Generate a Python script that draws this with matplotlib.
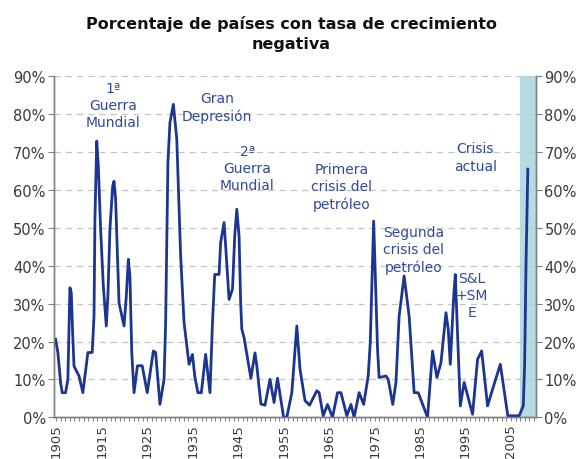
import matplotlib
matplotlib.use("Agg")
import matplotlib.pyplot as plt
from matplotlib.ticker import FixedLocator, FuncFormatter

# ---- data ----
years = [1904.85, 1905.35, 1905.95, 1906.3, 1907.05, 1907.55, 1908.0, 1908.3, 1908.6, 1908.9,
         1910.0, 1910.85, 1911.95, 1912.9, 1913.3, 1913.5, 1913.9, 1914.25, 1914.75, 1915.35,
         1916.0, 1916.35, 1916.8, 1917.4, 1917.7, 1918.05, 1918.8, 1919.9, 1920.4, 1920.85,
         1921.2, 1921.6, 1922.1, 1922.85, 1923.9, 1925.0, 1926.35, 1926.85, 1927.8, 1928.7,
         1929.05, 1929.55, 1930.0, 1930.75, 1931.5, 1932.35, 1933.1, 1934.2, 1934.95, 1935.45,
         1936.15, 1936.9, 1937.85, 1938.8, 1939.35, 1939.85, 1940.8, 1941.15, 1941.9, 1942.25,
         1943.0, 1943.75, 1944.25, 1944.7, 1945.2, 1945.55, 1945.8, 1946.3, 1947.8, 1948.7,
         1949.1, 1950.0, 1950.9, 1952.0, 1952.9, 1953.65, 1955.0, 1955.7, 1956.8, 1957.9,
         1958.6, 1959.7, 1960.7, 1962.3, 1962.8, 1963.7, 1964.65, 1965.75, 1966.85, 1967.6,
         1968.9, 1969.8, 1970.5, 1971.6, 1972.6, 1973.6, 1974.05, 1974.8, 1975.65, 1976.0,
         1977.5, 1978.0, 1979.0, 1979.7, 1980.4, 1981.5, 1982.6, 1983.7, 1984.6, 1986.65,
         1987.75, 1988.7, 1989.6, 1990.7, 1991.2, 1991.65, 1992.4, 1992.75, 1993.1, 1993.85,
         1994.7, 1996.55, 1997.65, 1998.55, 1999.85, 2000.95, 2002.65, 2004.3, 2006.8, 2007.7,
         2008.0, 2008.3, 2008.7]
pct = [20.6, 17.1, 9.2, 6.5, 6.5, 10.0, 34.2, 32.9, 22.4, 13.5,
       10.9, 6.5, 17.1, 17.1, 26.7, 52.2, 72.9, 66.3, 49.6, 34.6,
       24.1, 32.0, 49.6, 61.0, 62.3, 57.5, 30.2, 24.1, 32.0, 41.7,
       37.3, 17.1, 6.5, 13.6, 13.6, 6.5, 17.5, 17.1, 3.4, 10.0,
       25.0, 67.2, 77.8, 82.6, 73.4, 42.6, 25.0, 14.0, 16.6, 10.9,
       6.5, 6.5, 16.6, 6.5, 25.0, 37.7, 37.7, 46.1, 51.4, 45.2,
       31.1, 33.8, 48.0, 54.9, 47.8, 30.3, 23.3, 21.0, 10.3, 17.0,
       13.6, 3.5, 3.2, 10.0, 3.9, 10.3, 0.0, 0.0, 6.5, 24.1,
       12.7, 4.4, 3.2, 7.0, 6.5, 0.4, 3.4, 0.0, 6.5, 6.5,
       0.4, 3.4, 0.0, 6.5, 3.4, 10.9, 19.7, 51.8, 18.0, 10.5,
       10.9, 10.0, 3.4, 9.2, 26.7, 37.3, 26.7, 6.5, 6.5, 0.0,
       17.5, 10.5, 14.4, 27.6, 23.2, 14.0, 32.0, 37.7, 26.7, 3.0,
       9.2, 0.8, 15.3, 17.5, 3.0, 7.4, 14.0, 0.4, 0.4, 3.0,
       14.0, 40.0, 65.5]

tick_years = list(range(1905, 2006, 10))
pct_ticks = [0, 10, 20, 30, 40, 50, 60, 70, 80, 90]
shade_span = (2007.0, 2010.5)

annotations = [
    ("1ª\nGuerra\nMundial", 1917.55, 82.4),
    ("Gran\nDepresión", 1940.3, 82.0),
    ("2ª\nGuerra\nMundial", 1947.0, 65.8),
    ("Primera\ncrisis del\npetróleo", 1967.8, 61.0),
    ("Segunda\ncrisis del\npetróleo", 1983.65, 44.3),
    ("Crisis\nactual", 1997.15, 68.7),
    ("S&L\n+SM\nE", 1996.4, 32.3),
]
title = "Porcentaje de países con tasa de crecimiento\nnegativa"

# ---- styling ----
line_color = "#1c3590"
text_color = "#30499c"
tick_color = "#3a3a3a"
spine_color = "#808080"

fig = plt.figure(figsize=(5.82, 4.60), dpi=100)
ax = fig.add_axes([54 / 582, 1 - 418.3 / 460, (536 - 54) / 582, (418.3 - 77.3) / 460])

ax.axvspan(shade_span[0], shade_span[1], ymin=0, ymax=1, color="#b5dde1", lw=0, zorder=0)
for t in pct_ticks[1:]:
    ax.axhline(t, color="#c4c4c4", lw=0.9, ls=(0, (5, 4)), zorder=1)

ax.plot(years, pct, color=line_color, lw=2.0, zorder=3, solid_joinstyle="round")

ax.set_xlim(1904.5, 2010.5)
ax.set_ylim(0, 90)

ax.xaxis.set_major_locator(FixedLocator(tick_years))
ax.xaxis.set_minor_locator(FixedLocator(list(range(1905, 2011))))
ax.tick_params(axis="x", which="both", direction="out", length=3, width=0.8,
               color=spine_color, labelsize=9.5, labelcolor=tick_color, pad=1.5)
for lab in ax.get_xticklabels():
    lab.set_rotation(90)

ax.yaxis.set_major_locator(FixedLocator(pct_ticks))
ax.yaxis.set_major_formatter(FuncFormatter(lambda v, p: f"{int(v)}%"))
ax.tick_params(axis="y", which="both", direction="out", length=4, width=0.8,
               color=spine_color, labelsize=10.5, labelcolor=tick_color, pad=2)

ax2 = ax.twinx()
ax2.set_ylim(0, 90)
ax2.yaxis.set_major_locator(FixedLocator(pct_ticks))
ax2.yaxis.set_major_formatter(FuncFormatter(lambda v, p: f"{int(v)}%"))
ax2.tick_params(axis="y", direction="out", length=4, width=0.8,
                color=spine_color, labelsize=10.5, labelcolor=tick_color, pad=2)

for a in (ax, ax2):
    a.spines["top"].set_visible(False)
    for s in ("left", "right", "bottom"):
        a.spines[s].set_color(spine_color)
        a.spines[s].set_linewidth(1.0)

for txt, x, y in annotations:
    ax.text(x, y, txt, ha="center", va="center", color=text_color, fontsize=10,
            linespacing=1.3, zorder=4)

fig.text(0.5, 1 - 34 / 460, title, ha="center", va="center", fontsize=11.5,
         fontweight="bold", color="#111111", linespacing=1.35)

fig.savefig("out.png", dpi=100)
